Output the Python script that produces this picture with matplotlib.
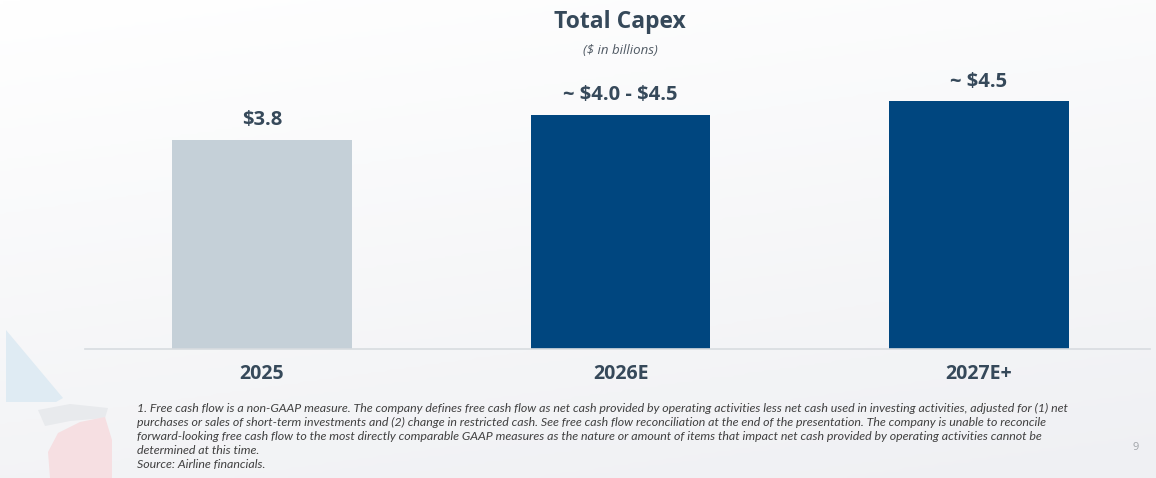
import numpy as np
import matplotlib.pyplot as plt
from matplotlib.patches import Polygon
from matplotlib.colors import LinearSegmentedColormap

categories = ['2025', '2026E', '2027E+']
capex = [3.8, 4.25, 4.5]
value_labels = [r'\$3.8', r'~ \$4.0 - \$4.5', r'~ \$4.5']
bar_colors = ['#c5d0d8', '#00467f', '#00467f']

footnote = ("1. Free cash flow is a non-GAAP measure. The company defines free cash flow as net cash provided by operating activities less net cash used in investing activities, adjusted for (1) net\n"
            "purchases or sales of short-term investments and (2) change in restricted cash. See free cash flow reconciliation at the end of the presentation. The company is unable to reconcile\n"
            "forward-looking free cash flow to the most directly comparable GAAP measures as the nature or amount of items that impact net cash provided by operating activities cannot be\n"
            "determined at this time.\n"
            "Source: Airline financials.")

plt.rcParams['font.family'] = ['Open Sans', 'DejaVu Sans']
text_col = '#36495a'

fig = plt.figure(figsize=(11.56, 4.78), dpi=100)

# faint background gradient, white at top to light grey at bottom right
bg = fig.add_axes([0, 0, 1, 1], zorder=-10)
cm = LinearSegmentedColormap.from_list('bgc', ['#ffffff', '#eff0f3'])
gy, gx = np.mgrid[0:1:200j, 0:1:200j]
bg.imshow(0.75 * gy + 0.25 * gx, cmap=cm, vmin=0, vmax=1,
          extent=[0, 1156, 478, 0], aspect='auto')
# decorative shapes lower left (pixel coords)
bg.add_patch(Polygon([[6, 330], [63, 398], [56, 402], [6, 402]],
                     closed=True, color='#dfebf3', lw=0))
bg.add_patch(Polygon([[38, 410], [70, 404], [108, 408], [105, 418], [70, 421], [45, 426]],
                     closed=True, color='#e8eaed', lw=0))
bg.add_patch(Polygon([[50, 478], [48, 452], [58, 433], [80, 422], [105, 417],
                      [112, 440], [112, 478]],
                     closed=True, color='#f6dfe2', lw=0))
bg.set_xlim(0, 1156)
bg.set_ylim(478, 0)
bg.axis('off')

ax = fig.add_axes([85 / 1156, 1 - 349 / 478, 1065 / 1156, 289 / 478])
ax.patch.set_alpha(0)
x = np.arange(len(categories))
bars = ax.bar(x, capex, width=0.5, color=bar_colors, zorder=2)
ax.set_xlim(-0.494, 2.477)
ax.set_ylim(0, 5.25)

for b, lab in zip(bars, value_labels):
    ax.annotate(lab, (b.get_x() + b.get_width() / 2, b.get_height()),
                xytext=(0, 7), textcoords='offset points', ha='center', va='bottom',
                fontsize=14.5, fontweight='bold', color=text_col)

ax.set_xticks(x)
ax.set_xticklabels(categories, fontsize=14, fontweight='bold', color=text_col)
ax.tick_params(axis='x', length=0, pad=11)
ax.set_yticks([])
for s in ['top', 'right', 'left']:
    ax.spines[s].set_visible(False)
ax.spines['bottom'].set_color('#d8dce0')
ax.spines['bottom'].set_linewidth(1.2)

fig.text(620 / 1156, 1 - 22 / 478, 'Total Capex', ha='center', va='center',
         fontsize=16.5, fontweight='bold', color=text_col)
fig.text(620 / 1156, 1 - 50 / 478, r'(\$ in billions)', ha='center', va='center',
         fontsize=9.5, style='italic', color='#505a64')

fig.text(137 / 1156, 1 - 403 / 478, footnote, ha='left', va='top', fontsize=8.9,
         style='italic', color='#404040', linespacing=1.32, family=['Lato', 'DejaVu Sans'])
fig.text(1136 / 1156, 1 - 448 / 478, '9', ha='center', va='center', fontsize=8,
         color='#a0a4a8')

fig.savefig('out.png', dpi=100)
